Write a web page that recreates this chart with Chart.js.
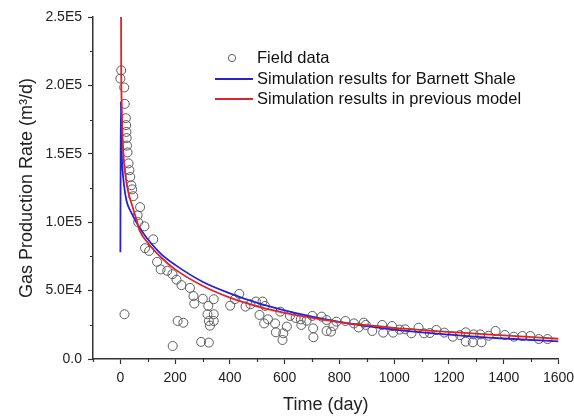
<!DOCTYPE html>
<html>
<head>
<meta charset="utf-8">
<script src="https://cdn.jsdelivr.net/npm/chart.js@4/dist/chart.umd.min.js"></script>
<style>
  html, body { margin: 0; padding: 0; background: #fff; }
  #wrap { width: 574px; height: 417px; }
</style>
</head>
<body>
<div id="wrap"><canvas id="myChart" width="574" height="417"></canvas></div>
<script>
// field data (day, m3/d)
const fieldDays = [0, 3, 14, 16, 20, 21, 22, 23, 24, 26, 30, 33, 36, 40, 43, 47, 63, 65, 72, 88, 90, 15,
  120, 105, 134, 147, 171, 190, 205, 223, 254, 267, 270, 209, 230, 191, 295, 323, 301, 321, 318, 341,
  323, 341, 327, 341, 401, 418, 434, 457, 475, 495, 519, 528, 508, 525, 539, 565, 568, 592, 595, 608,
  584, 619, 640, 659, 661, 680, 701, 704, 705, 735, 753, 753, 769, 778, 789, 822, 853, 870, 889, 896,
  920, 956, 960, 992, 996, 1020, 1040, 1063, 1089, 1109, 1130, 1154, 1183, 1214, 1240, 1261, 1261,
  1287, 1290, 1314, 1319, 1345, 1370, 1404, 1437, 1468, 1497, 1528, 1560];
const fieldRates = [205000, 211000, 198500, 186500, 176000, 171000, 166000, 161500, 156000, 151000, 143000,
  138000, 133000, 127000, 124000, 119000, 105000, 100000, 111000, 97000, 81000, 32700,
  87500, 79000, 71000, 65500, 64500, 62000, 58000, 54000, 52000, 46000, 40500, 27800, 26500, 9500, 12500,
  12000, 44000, 38800, 32700, 32700, 27800, 27800, 24400, 43700, 39000, 43700, 47600, 38300, 40000, 42000,
  42000, 38800, 32200, 26000, 29000, 26000, 19500, 13900, 18800, 23700, 34600, 31500, 30000, 29000, 24900,
  28000, 31500, 22400, 15900, 31000, 28500, 20500, 20000, 24100, 27300, 27800, 26000, 23000, 26600, 24900,
  20500, 24900, 19300, 24100, 19300, 21500, 21700, 18800, 22900, 18800, 19000, 21200, 19300, 16300, 17500,
  19500, 12700, 12200, 18000, 18000, 12200, 17000, 20500, 17600, 16300, 16800, 16800, 14600, 14600];

// simulation results for Barnett Shale (blue)
const blueDays = [0, 1, 2, 3, 5, 8, 14, 22, 30, 40, 55, 80, 100, 150, 200, 300, 400, 500, 600, 700, 800,
  900, 1000, 1200, 1400, 1600];
const blueRates = [78000, 150000, 188000, 168000, 150000, 138000, 126000, 116000, 111000, 107000, 101000, 93000,
  87500, 76500, 68800, 56500, 48000, 41000, 35500, 31000, 27200, 24000, 21500, 17800, 15000, 12900];

// simulation results in previous model (red)
const redDays = [2.5, 3, 5, 8, 12, 20, 30, 45, 60, 70, 100, 150, 200, 300, 400, 500, 600, 700, 800, 900,
  1000, 1200, 1400, 1600];
const redRates = [250000, 215000, 185000, 162000, 147000, 132000, 121000, 111000, 101000, 94000, 85000, 74000,
  65500, 53500, 44800, 38500, 33800, 30000, 27000, 24700, 22800, 19800, 17200, 14800];

const seriesLabels = ['Field data', 'Simulation results for Barnett Shale', 'Simulation results in previous model'];

// axes
const xTicks = [0, 200, 400, 600, 800, 1000, 1200, 1400, 1600];
const xMinor = [-100, 100, 300, 500, 700, 900, 1100, 1300, 1500];
const yTicks = [0, 50000, 100000, 150000, 200000, 250000];
const yTickLabels = ['0.0', '5.0E4', '1.0E5', '1.5E5', '2.0E5', '2.5E5'];
const yMinor = [25000, 75000, 125000, 175000, 225000];

const axisColor = '#333';
const fontFamily = '"Liberation Sans", Arial, sans-serif';

function toPoints(xs, ys) {
  return xs.map((x, i) => ({ x: x, y: ys[i] }));
}

const extras = {
  id: 'extras',
  afterDraw(chart) {
    const ctx = chart.ctx;
    const xs = chart.scales.x, ys = chart.scales.y;
    ctx.save();
    // minor ticks
    ctx.strokeStyle = axisColor;
    ctx.lineWidth = 1.2;
    ctx.beginPath();
    xMinor.forEach(v => {
      const px = Math.round(xs.getPixelForValue(v)) + 0.5;
      ctx.moveTo(px, xs.top);
      ctx.lineTo(px, xs.top + 3);
    });
    yMinor.forEach(v => {
      const py = Math.round(ys.getPixelForValue(v)) + 0.5;
      ctx.moveTo(ys.right, py);
      ctx.lineTo(ys.right - 3, py);
    });
    ctx.stroke();

    // legend inside the plot
    const ds = chart.data.datasets;
    ctx.font = '16.5px ' + fontFamily;
    ctx.textBaseline = 'middle';
    ctx.fillStyle = '#111';
    const rows = [58, 79, 99];
    ds.forEach((d, i) => {
      const y = rows[i];
      if (d.showLine === false) {
        ctx.beginPath();
        ctx.arc(232, y, 3.6, 0, Math.PI * 2);
        ctx.strokeStyle = d.borderColor;
        ctx.lineWidth = 1;
        ctx.stroke();
      } else {
        ctx.beginPath();
        ctx.moveTo(215, y);
        ctx.lineTo(253, y);
        ctx.strokeStyle = d.borderColor;
        ctx.lineWidth = 1.8;
        ctx.stroke();
      }
      ctx.fillText(d.label, 257, y);
    });
    ctx.restore();
  }
};

const chartData = {
  datasets: [
    {
      label: seriesLabels[0],
      data: toPoints(fieldDays, fieldRates),
      showLine: false,
      pointStyle: 'circle',
      pointRadius: 4.5,
      borderColor: '#5c5c5c',
      borderWidth: 1,
      backgroundColor: 'rgba(0,0,0,0)',
      order: 3
    },
    {
      label: seriesLabels[1],
      data: toPoints(blueDays, blueRates),
      showLine: true,
      pointRadius: 0,
      borderColor: '#2a22cc',
      borderWidth: 1.8,
      cubicInterpolationMode: 'monotone',
      order: 2
    },
    {
      label: seriesLabels[2],
      data: toPoints(redDays, redRates),
      showLine: true,
      pointRadius: 0,
      borderColor: '#d8262c',
      borderWidth: 1.8,
      cubicInterpolationMode: 'monotone',
      order: 1
    }
  ]
};

const config = {
  type: 'scatter',
  data: chartData,
  options: {
    responsive: false,
    animation: false,
    devicePixelRatio: 1,
    layout: { padding: { left: 0, right: 15.5, top: 17, bottom: 0 } },
    plugins: {
      legend: { display: false },
      tooltip: { enabled: false }
    },
    scales: {
      x: {
        type: 'linear',
        min: -100,
        max: 1600,
        afterBuildTicks: s => { s.ticks = xTicks.map(v => ({ value: v })); },
        afterFit: s => { s.height = 58; s.paddingLeft = 0; s.paddingRight = 0; },
        border: { color: axisColor, width: 1.5 },
        grid: { drawOnChartArea: false, tickLength: 5, tickColor: axisColor, tickWidth: 1.2 },
        ticks: {
          color: '#222', padding: 6, maxRotation: 0, font: { family: fontFamily, size: 14 },
          callback: v => String(v)
        },
        title: { display: true, text: 'Time (day)', color: '#222', padding: { top: 0, bottom: 1 }, font: { family: fontFamily, size: 18 } }
      },
      y: {
        type: 'linear',
        min: 0,
        max: 250000,
        afterBuildTicks: s => { s.ticks = yTicks.map(v => ({ value: v })); },
        afterFit: s => { s.width = 93; s.paddingTop = 0; s.paddingBottom = 0; },
        border: { color: axisColor, width: 1.5 },
        grid: { drawOnChartArea: false, tickLength: 5, tickColor: axisColor, tickWidth: 1.2 },
        ticks: {
          color: '#222', padding: 6, font: { family: fontFamily, size: 14 },
          callback: v => yTickLabels[yTicks.indexOf(v)]
        },
        title: { display: true, text: 'Gas Production Rate (m³/d)', color: '#222', padding: { top: 16, bottom: 0 }, font: { family: fontFamily, size: 18 } }
      }
    }
  },
  plugins: [extras]
};

new Chart(document.getElementById('myChart'), config);
</script>
</body>
</html>
